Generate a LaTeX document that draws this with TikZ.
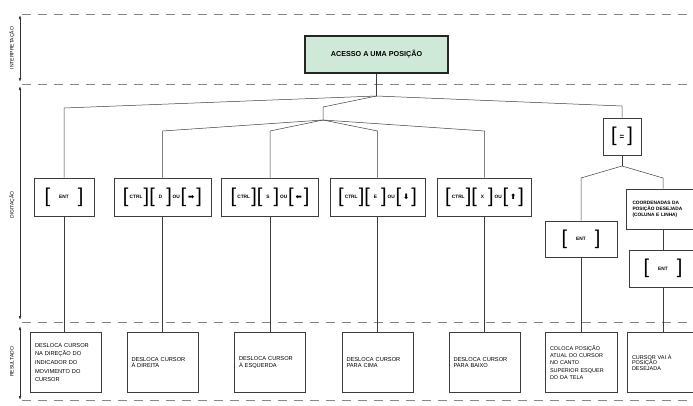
\documentclass[tikz,border=0pt]{standalone}
\usepackage{fontspec}
\setmainfont{Liberation Sans}
\newfontfamily\symfont{DejaVu Sans}
\usetikzlibrary{arrows.meta}
\definecolor{boxgreen}{RGB}{206,233,215}
\definecolor{lineg}{RGB}{60,60,60}
\definecolor{dashg}{RGB}{135,135,135}
\newcommand{\lb}{{\fontsize{20}{20}\selectfont[}}
\newcommand{\rb}{{\fontsize{20}{20}\selectfont]}}
\newcommand{\kb}[2][1.2pt]{\lb\hspace{#1}\raisebox{3.6pt}{\fontsize{4.8}{5}\selectfont\bfseries #2}\hspace{#1}\rb}
\newcommand{\ou}{\raisebox{3.6pt}{\fontsize{4.8}{5}\selectfont\bfseries\,OU\,}}
\newcommand{\arr}[1]{\raisebox{-0.6pt}{\symfont\fontsize{7.5}{7.5}\selectfont #1}}
\begin{document}
\begin{tikzpicture}[x=1pt,y=-1pt,
  every node/.style={inner sep=0pt},
  topbox/.style={draw=black!85, line width=1.3pt, fill=boxgreen, minimum width=143pt, minimum height=37pt, font=\fontsize{7.2}{8}\selectfont\bfseries},
  keybox/.style={draw=lineg, line width=0.8pt, minimum height=38pt},
  resbox/.style={draw=lineg, line width=0.8pt, minimum height=60pt, minimum width=71pt, text width=62pt, align=left},
  link/.style={draw=lineg, line width=0.5pt},
  sep/.style={dashg, dash pattern=on 9pt off 7pt, line width=0.8pt},
  span/.style={{Latex[length=4pt,width=2.6pt]}-{Latex[length=4pt,width=2.6pt]}, line width=0.6pt, black!80},
  side/.style={rotate=90, font=\fontsize{5}{6}\selectfont}
]
\useasboundingbox (0,0) rectangle (693,405);
\clip (0,0) rectangle (693,405);

% bands
\draw[sep] (22,14) -- (693,14);
\draw[sep] (22,84) -- (693,84);
\draw[sep] (22,322) -- (693,322);
\draw[sep] (22,400) -- (693,400);

\draw[span] (20,15) -- (20,82);
\draw[span] (20,86) -- (20,320);
\draw[span] (20,326) -- (20,400);
\node[side] at (12,48) (lint) {INTERPRETAÇÃO};
\node[side] at (12,205) (ldig) {DIGITAÇÃO};
\node[side] at (12,362) (lres) {RESULTADO};

% interpretation
\node at (376.5,54.5) [topbox] (acc) {ACESSO A UMA POSIÇÃO};

% keys
\node at (64,197) [keybox, minimum width=60pt] (ent) {\kb[9pt]{ENT}};
\node at (162.5,197) [keybox, minimum width=97pt] (ctrld) {\kb{CTRL}\kb[4pt]{D}\ou\kb[2pt]{\arr{➡}}};
\node at (270,197) [keybox, minimum width=97pt] (ctrls) {\kb{CTRL}\kb[4pt]{S}\ou\kb[2pt]{\arr{⬅}}};
\node at (377.5,197) [keybox, minimum width=95pt] (ctrle) {\kb{CTRL}\kb[4pt]{E}\ou\kb[2pt]{\arr{⬇}}};
\node at (484.5,197) [keybox, minimum width=94pt] (ctrlx) {\kb{CTRL}\kb[4pt]{X}\ou\kb[2pt]{\arr{⬆}}};
\node at (622,136.5) [keybox, minimum width=38pt, minimum height=37pt] (eq) {\kb[3pt]{\fontsize{8}{8}\selectfont\raisebox{-1.5pt}{=}}};
\node at (581,239) [keybox, minimum width=72pt, minimum height=36pt] (entl) {\kb[9pt]{ENT}};
\node at (663,209) [keybox, minimum width=73pt, minimum height=40pt, text width=61pt, align=left, font=\fontsize{4.8}{6}\selectfont\bfseries] (coord) {COORDENADAS DA\\POSIÇÃO DESEJADA\\(COLUNA E LINHA)};
\node at (663,268.5) [keybox, minimum width=68pt, minimum height=37pt] (entr) {\kb[9pt]{ENT}};

% results
\node at (66,362.5) [resbox, font=\fontsize{5.7}{8.7}\selectfont] (res1) {DESLOCA CURSOR\\NA DIREÇÃO DO\\INDICADOR DO\\MOVIMENTO DO\\CURSOR};
\node at (162.5,362.5) [resbox, font=\fontsize{5.7}{6.8}\selectfont] (res2) {DESLOCA CURSOR\\À DIREITA};
\node at (270,362.5) [resbox, font=\fontsize{5.7}{6.8}\selectfont] (res3) {DESLOCA CURSOR\\À ESQUERDA};
\node at (377.5,362.5) [resbox, font=\fontsize{5.7}{6.8}\selectfont] (res4) {DESLOCA CURSOR\\PARA CIMA};
\node at (484.5,362.5) [resbox, font=\fontsize{5.7}{6.8}\selectfont] (res5) {DESLOCA CURSOR\\PARA BAIXO};
\node at (581,362.5) [resbox, minimum width=72pt, font=\fontsize{5.5}{7.4}\selectfont] (res6) {COLOCA POSIÇÃO\\ATUAL DO CURSOR\\NO CANTO\\SUPERIOR ESQUER\\DO DA TELA};
\node at (663,362.5) [resbox, minimum width=72pt, font=\fontsize{5.5}{5.8}\selectfont] (res7) {CURSOR VAI À\\POSIÇÃO\\DESEJADA};

% tree
\coordinate (j0) at (376.5,96);
\coordinate (b1) at (64,108);
\coordinate (b2) at (323,107);
\coordinate (b3) at (622,106);
\coordinate (j1) at (323,120);
\coordinate (d1) at (162.5,131);
\coordinate (d2) at (270,131);
\coordinate (d3) at (377.5,131);
\coordinate (d4) at (484.5,131);
\coordinate (j2) at (622,166);
\coordinate (e1) at (581,178);
\coordinate (e2) at (663,178);

\draw[link] (acc) -- (j0);
\draw[link] (j0) -- (b1) -- (ent);
\draw[link] (j0) -- (b2) -- (j1);
\draw[link] (j0) -- (b3) -- (eq);
\draw[link] (j1) -- (d1) -- (ctrld);
\draw[link] (j1) -- (d2) -- (ctrls);
\draw[link] (j1) -- (d3) -- (ctrle);
\draw[link] (j1) -- (d4) -- (ctrlx);
\draw[link] (eq) -- (j2);
\draw[link] (j2) -- (e1) -- (entl);
\draw[link] (j2) -- (e2) -- (coord);
\draw[link] (coord) -- (entr);

\draw[link] (ent) -- (ent |- res1.north);
\draw[link] (ctrld) -- (res2);
\draw[link] (ctrls) -- (res3);
\draw[link] (ctrle) -- (res4);
\draw[link] (ctrlx) -- (res5);
\draw[link] (entl) -- (res6);
\draw[link] (entr) -- (res7);

\end{tikzpicture}
\end{document}
